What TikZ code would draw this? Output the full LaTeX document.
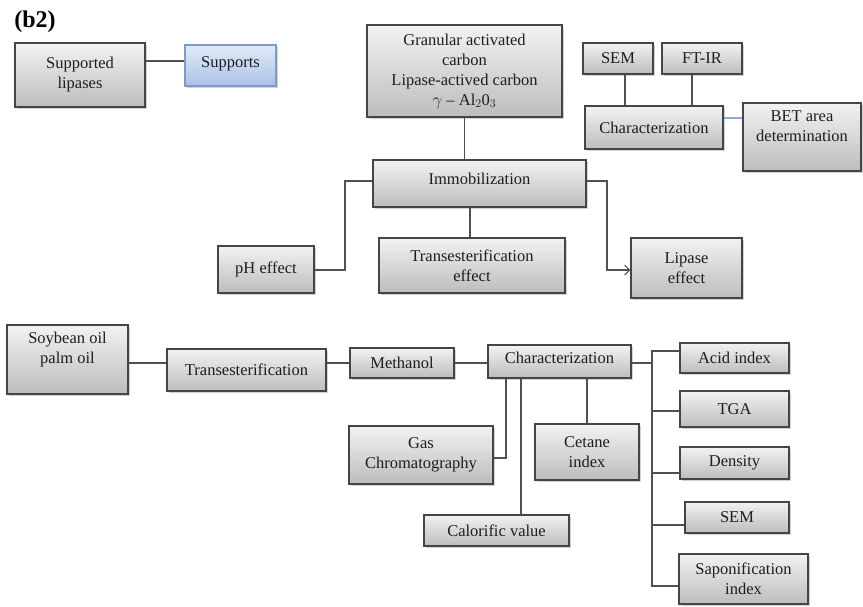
\documentclass[tikz,border=0pt]{standalone}
\usepackage{fontspec}
\setmainfont{Liberation Serif}
\usetikzlibrary{shadows,arrows.meta}
\definecolor{txt}{HTML}{1E1E1E}
\definecolor{edge}{HTML}{454545}
\definecolor{ln}{HTML}{505050}
\definecolor{bluetop}{HTML}{E2EBF8}
\definecolor{bluebot}{HTML}{A9C1E6}
\definecolor{blueedge}{HTML}{7C9BCB}
\definecolor{blueln}{HTML}{8AAAD6}
\tikzset{
  box/.style={draw=edge, line width=1.1pt, top color=white!95!black, bottom color=white!74!black,
    align=center, text=txt, inner sep=1pt,
    font=\fontsize{16.5}{20}\selectfont,
    drop shadow={shadow xshift=1.6pt, shadow yshift=-1.6pt, opacity=0.35}},
  bluebox/.style={box, draw=blueedge, top color=bluetop, bottom color=bluebot},
  conn/.style={draw=ln, line width=1.1pt},
}
\begin{document}
\begin{tikzpicture}[x=1pt,y=-1pt]
\useasboundingbox (0,0) rectangle (863,606);
\node[font=\fontsize{24}{27}\selectfont\bfseries, text=black] (title) at (35,22) {(b2)};
% top section
\node[box, minimum width=130pt, minimum height=64pt] (sl) at (80,75) {Supported\\lipases};
\node[bluebox, minimum width=91pt, minimum height=41pt, text depth=6pt] (sup) at (230.5,65.5) {Supports};
\node[box, minimum width=195pt, minimum height=92pt] (gac) at (464.5,71) {Granular activated\\carbon\\Lipase-actived carbon\\$\gamma$ -- Al$_2$0$_3$};
\node[box, minimum width=70pt, minimum height=31pt] (sem1) at (618,58.5) {SEM};
\node[box, minimum width=80pt, minimum height=31pt] (ftir) at (702,58.5) {FT-IR};
\node[box, minimum width=138pt, minimum height=43pt] (char1) at (654,127.5) {Characterization};
\node[box, minimum width=118pt, minimum height=68pt, text depth=22pt] (bet) at (802,137) {BET area\\determination};
\node[box, minimum width=213pt, minimum height=47pt, text depth=10pt] (imm) at (479.5,183.5) {Immobilization};
\node[box, minimum width=96pt, minimum height=47pt] (ph) at (266,269.5) {pH effect};
\node[box, minimum width=186pt, minimum height=55pt] (tre) at (472,265.5) {Transesterification\\effect};
\node[box, minimum width=111pt, minimum height=60pt] (lip) at (686.5,268) {Lipase\\effect};
% bottom section
\node[box, minimum width=121pt, minimum height=69pt, text depth=24pt] (soy) at (67.5,359.5) {Soybean oil\\palm oil};
\node[box, minimum width=159pt, minimum height=42pt] (trans) at (246.5,370) {Transesterification};
\node[box, minimum width=104pt, minimum height=30pt] (meth) at (402,363) {Methanol};
\node[box, minimum width=143pt, minimum height=33pt, text depth=8pt] (char2) at (559.5,361.5) {Characterization};
\node[box, minimum width=144pt, minimum height=58pt] (gc) at (421,455) {Gas\\Chromatography};
\node[box, minimum width=145pt, minimum height=31pt] (cal) at (496.5,530.5) {Calorific value};
\node[box, minimum width=104pt, minimum height=56pt] (cet) at (587,452) {Cetane\\index};
\node[box, minimum width=109pt, minimum height=30pt] (acid) at (734.5,358) {Acid index};
\node[box, minimum width=109pt, minimum height=36pt] (tga) at (734.5,409) {TGA};
\node[box, minimum width=109pt, minimum height=32pt] (den) at (734.5,463) {Density};
\node[box, minimum width=104pt, minimum height=31pt] (sem2) at (737,517.5) {SEM};
\node[box, minimum width=129pt, minimum height=50pt] (sap) at (743.5,579) {Saponification\\index};
% connectors top
\draw[conn] (sl.east |- 0,61) -- (sup.west |- 0,61);
\draw[conn] (gac.south) -- (imm.north -| gac.south);
\draw[conn] (sem1.south -| 625,0) -- (char1.north -| 625,0);
\draw[conn] (ftir.south -| 692,0) -- (char1.north -| 692,0);
\draw[draw=blueln, line width=1.1pt] (char1.east |- 0,118) -- (bet.west |- 0,118);
\draw[conn] (imm.west |- 0,181) -- (345,181) -- (345,270) -- (ph.east |- 0,270);
\draw[conn] (imm.south -| 470,0) -- (tre.north -| 470,0);
\draw[conn, -{Straight Barb[length=5pt,width=10pt]}] (imm.east |- 0,181) -- (607,181) -- (607,270) -- (lip.west |- 0,270);
% connectors bottom
\draw[conn] (soy.east |- 0,363) -- (trans.west |- 0,363);
\draw[conn] (trans.east |- 0,363) -- (meth.west |- 0,363);
\draw[conn] (meth.east |- 0,363) -- (char2.west |- 0,363);
\draw[conn] (char2.south -| 506,0) -- (506,458) -- (gc.east |- 0,458);
\draw[conn] (char2.south -| 521,0) -- (cal.north -| 521,0);
\draw[conn] (char2.south -| 587,0) -- (cet.north -| 587,0);
\coordinate (bus) at (652,363);
\draw[conn] (char2.east |- bus) -- (bus);
\draw[conn] (acid.west |- 0,351) -- (652,351) -- (652,586) -- (sap.west |- 0,586);
\draw[conn] (652,411) -- (tga.west |- 0,411);
\draw[conn] (652,473) -- (den.west |- 0,473);
\draw[conn] (652,525) -- (sem2.west |- 0,525);
\end{tikzpicture}
\end{document}
